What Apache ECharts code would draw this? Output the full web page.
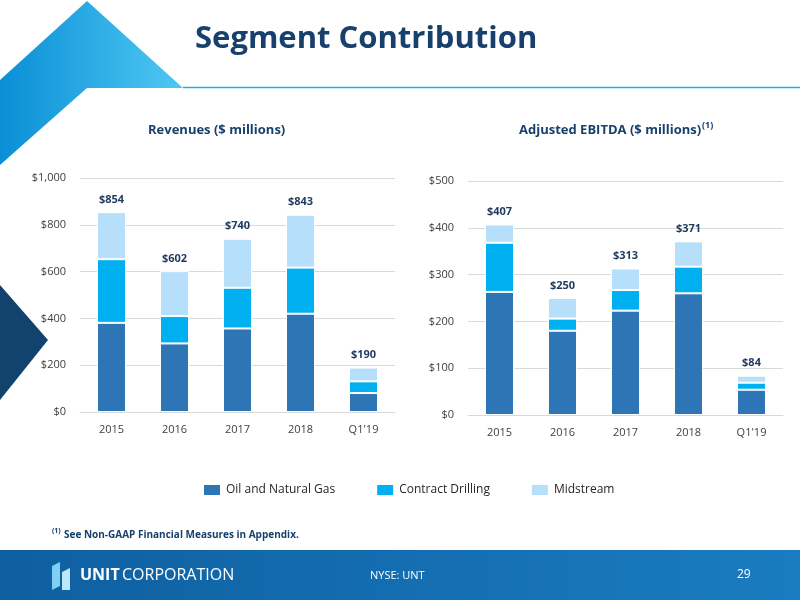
<!DOCTYPE html>
<html>
<head>
<meta charset="utf-8">
<script src="https://cdn.jsdelivr.net/npm/echarts@6/dist/echarts.min.js"></script>
<style>html,body{margin:0;padding:0;background:#fff}#chart{width:800px;height:600px}</style>
</head>
<body>
<div id="chart"></div>
<script>
// data
let categories = ['2015', '2016', '2017', '2018', "Q1'19"];
let revOil = [381, 293, 357, 420, 81];
let revDrilling = [272, 117, 174, 197, 50];
let revMidstream = [201, 192, 209, 226, 59];
let revTotals = [854, 602, 740, 843, 190];
let ebitdaOil = [263, 180, 223, 260, 54];
let ebitdaDrilling = [105, 26, 44, 57, 15];
let ebitdaMidstream = [39, 44, 46, 54, 15];
let ebitdaTotals = [407, 250, 313, 371, 84];

let colors = ['#2E75B6', '#00B0F0', '#B5DFFA'];
let font = 'Open Sans';

let chart = echarts.init(document.getElementById('chart'));

function bars(idx, oil, drill, mid, totals) {
    let base = {
        type: 'bar',
        stack: 's' + idx,
        xAxisIndex: idx,
        yAxisIndex: idx,
        barWidth: 29
    };
    return [
        Object.assign({}, base, { name: 'Oil and Natural Gas', data: oil, itemStyle: { color: colors[0], borderColor: '#fff', borderWidth: 1 } }),
        Object.assign({}, base, { name: 'Contract Drilling', data: drill, itemStyle: { color: colors[1], borderColor: '#fff', borderWidth: 1 } }),
        Object.assign({}, base, {
            name: 'Midstream', data: mid,
            itemStyle: { color: colors[2], borderColor: '#fff', borderWidth: 1 },
            label: {
                show: true, position: 'top', distance: 7,
                fontFamily: font, fontWeight: 'bold', fontSize: 11, color: '#1F3A5F',
                formatter: function(p) { return '$' + totals[p.dataIndex]; }
            }
        })
    ];
}

function yAxis(idx, max, interval) {
    return {
        type: 'value', gridIndex: idx, min: 0, max: max, interval: interval,
        axisLine: { show: false }, axisTick: { show: false },
        splitLine: { lineStyle: { color: '#D9D9D9' } },
        axisLabel: {
            fontFamily: font, fontSize: 11, color: '#404040', margin: 14,
            formatter: function(v) { return '$' + v.toLocaleString('en-US'); }
        }
    };
}

function xAxis(idx) {
    return {
        type: 'category', gridIndex: idx, data: categories,
        axisLine: { lineStyle: { color: '#D9D9D9' } }, axisTick: { show: false },
        axisLabel: { fontFamily: font, fontSize: 11, color: '#404040', margin: 12 }
    };
}

let option = {
    animation: false,
    grid: [
        { left: 80, top: 178, width: 315, height: 234 },
        { left: 468, top: 181, width: 315, height: 234 }
    ],
    xAxis: [xAxis(0), xAxis(1)],
    yAxis: [yAxis(0, 1000, 200), yAxis(1, 500, 100)],
    legend: {
        data: ['Oil and Natural Gas', 'Contract Drilling', 'Midstream'],
        left: 197, top: 478, itemWidth: 18, itemHeight: 12, itemGap: 40,
        icon: 'rect',
        textStyle: { fontFamily: font, fontSize: 12, color: '#262626' }
    },
    series: bars(0, revOil, revDrilling, revMidstream, revTotals)
        .concat(bars(1, ebitdaOil, ebitdaDrilling, ebitdaMidstream, ebitdaTotals)),
    graphic: [
        // top-left decoration
        {
            type: 'polygon', shape: { points: [[0, 80], [87, 1], [183, 88], [87, 88], [0, 165]] },
            style: { fill: new echarts.graphic.LinearGradient(0, 0, 1, 0, [{ offset: 0, color: '#0A8FD6' }, { offset: 1, color: '#4FC8F3' }]) }
        },
        { type: 'polygon', shape: { points: [[0, 285], [48, 340], [0, 400]] }, style: { fill: '#12426E' } },
        { type: 'line', shape: { x1: 183, y1: 87.5, x2: 800, y2: 87.5 }, style: { stroke: '#29ABE2', lineWidth: 1.5 } },
        { type: 'text', left: 195, top: 24, style: { text: 'Segment Contribution', font: 'bold 31px "Open Sans"', fill: '#17406D' } },
        { type: 'text', left: 148, top: 124, style: { text: 'Revenues ($ millions)', font: 'bold 13px "Open Sans"', fill: '#17406D' } },
        { type: 'text', left: 519, top: 124, style: { text: 'Adjusted EBITDA ($ millions)', font: 'bold 13px "Open Sans"', fill: '#17406D' } },
        { type: 'text', left: 702, top: 121, style: { text: '(1)', font: 'bold 9px "Open Sans"', fill: '#17406D' } },
        { type: 'text', left: 52, top: 527, style: { text: '(1)', font: 'bold 7px "Open Sans"', fill: '#17406D' } },
        { type: 'text', left: 64, top: 530, style: { text: 'See Non-GAAP Financial Measures in Appendix.', font: 'bold 10px "Open Sans"', fill: '#17406D' } },
        // footer
        {
            type: 'rect', shape: { x: 0, y: 550, width: 800, height: 50 },
            style: { fill: new echarts.graphic.LinearGradient(0, 0, 1, 0, [{ offset: 0, color: '#0E5FA0' }, { offset: 1, color: '#1A7CC0' }]) }
        },
        { type: 'polygon', shape: { points: [[52, 566], [60, 562], [60, 586], [52, 590]] }, style: { fill: '#7FD0F5' } },
        { type: 'polygon', shape: { points: [[62, 572], [70, 568], [70, 590], [62, 590]] }, style: { fill: '#BDE6FA' } },
        { type: 'text', left: 80, top: 567, style: { text: 'UNIT', font: 'bold 16px "Open Sans"', fill: '#fff' } },
        { type: 'text', left: 122, top: 567, style: { text: 'CORPORATION', font: '16px "Open Sans"', fill: '#fff' } },
        { type: 'text', left: 370, top: 570, style: { text: 'NYSE: UNT', font: '11px "Open Sans"', fill: '#fff' } },
        { type: 'text', left: 737, top: 569, style: { text: '29', font: '12px "Open Sans"', fill: '#fff' } }
    ]
};

chart.setOption(option);
</script>
</body>
</html>
